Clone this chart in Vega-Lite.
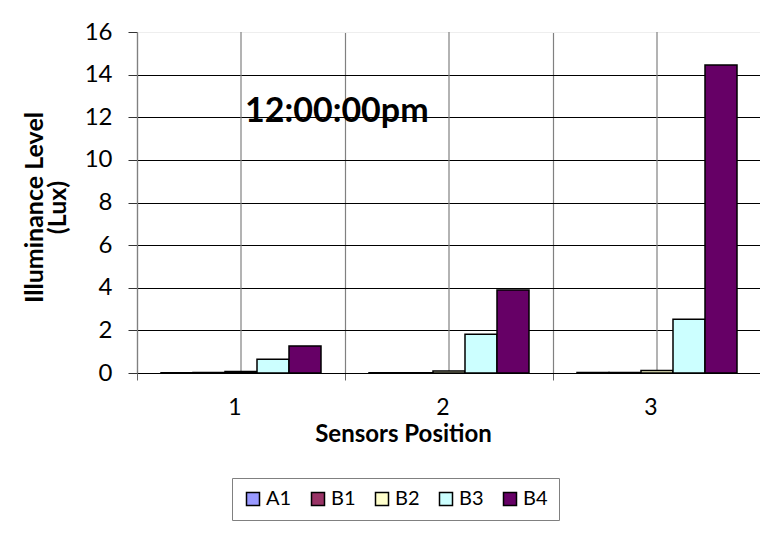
{
  "$schema": "https://vega.github.io/schema/vega-lite/v6.json",
  "width": 624,
  "height": 341,
  "autosize": {"type": "none"},
  "padding": {"left": 137, "top": 32, "right": 0, "bottom": 170},
  "background": "white",
  "config": {"font": "Lato", "view": {"stroke": null}},
  "data": {"values": [
    {"position": "1", "sensor": "A1", "lux": 0.01},
    {"position": "1", "sensor": "B1", "lux": 0.02},
    {"position": "1", "sensor": "B2", "lux": 0.07},
    {"position": "1", "sensor": "B3", "lux": 0.65},
    {"position": "1", "sensor": "B4", "lux": 1.27},
    {"position": "2", "sensor": "A1", "lux": 0.01},
    {"position": "2", "sensor": "B1", "lux": 0.01},
    {"position": "2", "sensor": "B2", "lux": 0.09},
    {"position": "2", "sensor": "B3", "lux": 1.82},
    {"position": "2", "sensor": "B4", "lux": 3.9},
    {"position": "3", "sensor": "A1", "lux": 0.02},
    {"position": "3", "sensor": "B1", "lux": 0.02},
    {"position": "3", "sensor": "B2", "lux": 0.12},
    {"position": "3", "sensor": "B3", "lux": 2.52},
    {"position": "3", "sensor": "B4", "lux": 14.45}
  ]},
  "layer": [
    {
      "transform": [{"filter": "datum.sensor === 'A1'"}],
      "mark": {"type": "rule", "color": "#808080", "strokeWidth": 1.2},
      "encoding": {
        "x": {"field": "position", "type": "nominal"},
        "y": {"datum": 0},
        "y2": {"datum": 16}
      }
    },
    {
      "mark": {"type": "bar", "stroke": "black", "strokeWidth": 1.5},
      "encoding": {
        "x": {
          "field": "position", "type": "nominal",
          "scale": {"paddingInner": 0, "paddingOuter": 0},
          "axis": {
            "title": "Sensors Position", "titleFont": "Lato", "titleFontSize": 24, "titleFontWeight": "bold", "titleColor": "black",
            "titleX": 266, "titleY": 68, "titleBaseline": "alphabetic", "titleAlign": "center", "titleAnchor": null,
            "labelAngle": 0, "labelFontSize": 23, "labelColor": "black", "labelPadding": 27,
            "tickBand": "extent", "tickSize": 7, "tickColor": "#666666",
            "grid": true, "gridColor": "#808080", "gridWidth": 1.2,
            "domainColor": "black", "domainWidth": 1
          }
        },
        "xOffset": {"field": "sensor", "type": "nominal", "scale": {"paddingInner": 0, "paddingOuter": 0.75}},
        "y": {
          "field": "lux", "type": "quantitative",
          "scale": {"domain": [0, 16], "nice": false},
          "axis": {
            "title": ["Illuminance Level", "(Lux)"], "titleFont": "Lato", "titleFontSize": 25, "titleFontWeight": "bold", "titleColor": "black",
            "titleX": -103, "titleY": 175, "titleAngle": -90, "titleAlign": "center", "titleBaseline": "middle", "titleLineHeight": 23,
            "values": [0, 2, 4, 6, 8, 10, 12, 14, 16],
            "labelFontSize": 24, "labelColor": "black", "labelPadding": 16,
            "tickSize": 9, "tickColor": "#333333",
            "domainColor": "#808080", "domainWidth": 1.2,
            "grid": true,
            "gridColor": {"condition": {"test": "datum.value === 16", "value": "#eeeeee"}, "value": "black"},
            "gridWidth": 1
          }
        },
        "color": {
          "field": "sensor", "type": "nominal",
          "scale": {"domain": ["A1", "B1", "B2", "B3", "B4"], "range": ["#9999FF", "#993366", "#FFFFCC", "#CCFFFF", "#660066"]},
          "legend": {
            "orient": "none", "legendX": 95, "legendY": 446, "direction": "horizontal", "columns": 5,
            "title": null, "symbolType": "square", "symbolSize": 169,
            "symbolStrokeColor": "black", "symbolStrokeWidth": 1.5,
            "labelFontSize": 20, "labelColor": "black", "labelOffset": 3, "columnPadding": 16,
            "padding": 11, "strokeColor": "#808080", "fillColor": "white"
          }
        }
      }
    },
    {
      "transform": [{"filter": "datum.sensor === 'A1' && datum.position === '1'"}],
      "mark": {"type": "text", "font": "Lato", "fontWeight": "bold", "fontSize": 34, "align": "left", "baseline": "alphabetic", "dx": 4, "color": "black"},
      "encoding": {
        "x": {"datum": "1"},
        "y": {"datum": 11.78},
        "text": {"value": "12:00:00pm"}
      }
    }
  ]
}
